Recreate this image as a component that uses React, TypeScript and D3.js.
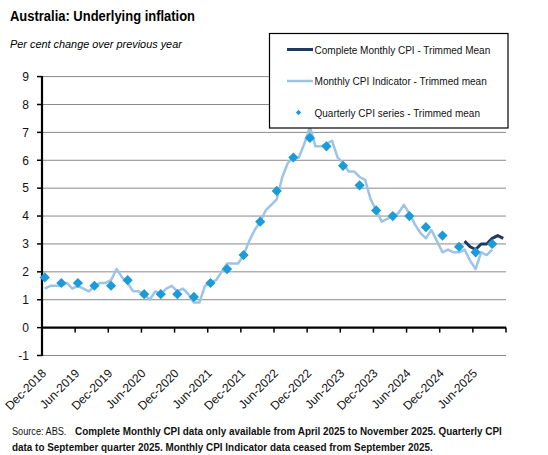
import React, { useLayoutEffect, useRef, useState } from "react";
import * as d3 from "d3";

// ---- Data ----
const MONTHS: string[] = d3
  .timeMonth.range(new Date(2018, 11, 1), new Date(2025, 11, 1))
  .map((d) => d3.timeFormat("%b-%Y")(d)); // Dec-2018 .. Nov-2025

const X_TICK_LABELS = [
  "Dec-2018", "Jun-2019", "Dec-2019", "Jun-2020", "Dec-2020", "Jun-2021", "Dec-2021",
  "Jun-2022", "Dec-2022", "Jun-2023", "Dec-2023", "Jun-2024", "Dec-2024", "Jun-2025",
];

const Y_TICKS = [-1, 0, 1, 2, 3, 4, 5, 6, 7, 8, 9];

// Monthly CPI Indicator - Trimmed mean, Dec-2018 .. Sep-2025
const INDICATOR_START = "Dec-2018";
const INDICATOR = [
  1.4, 1.5, 1.5, 1.5, 1.6, 1.4, 1.5, 1.4, 1.3, 1.5, 1.6, 1.6,
  1.7, 2.1, 1.8, 1.6, 1.3, 1.3, 1.2, 1.0, 1.3, 1.2, 1.4, 1.5,
  1.3, 1.4, 1.2, 0.9, 0.9, 1.5, 1.6, 1.7, 2.0, 2.3, 2.3, 2.3,
  2.6, 3.1, 3.5, 3.8, 4.2, 4.4, 4.6, 5.4, 5.9, 6.1, 6.1, 6.6,
  7.2, 6.5, 6.5, 6.6, 6.7, 6.1, 5.9, 5.6, 5.6, 5.4, 5.3, 4.6,
  4.2, 3.8, 3.9, 4.0, 4.1, 4.4, 4.1, 3.7, 3.4, 3.2, 3.5, 3.1,
  2.7, 2.8, 2.7, 2.7, 2.8, 2.4, 2.1, 2.7, 2.6, 2.8,
];

// Complete Monthly CPI - Trimmed Mean, Apr-2025 .. Nov-2025
const COMPLETE_START = "Apr-2025";
const COMPLETE = [3.1, 2.9, 2.8, 3.0, 3.0, 3.2, 3.3, 3.2];

// Quarterly CPI series - Trimmed mean, Dec-2018 .. Sep-2025
const QUARTERS = [
  "Dec-2018", "Mar-2019", "Jun-2019", "Sep-2019", "Dec-2019", "Mar-2020", "Jun-2020",
  "Sep-2020", "Dec-2020", "Mar-2021", "Jun-2021", "Sep-2021", "Dec-2021", "Mar-2022",
  "Jun-2022", "Sep-2022", "Dec-2022", "Mar-2023", "Jun-2023", "Sep-2023", "Dec-2023",
  "Mar-2024", "Jun-2024", "Sep-2024", "Dec-2024", "Mar-2025", "Jun-2025", "Sep-2025",
];
const QUARTERLY = [
  1.8, 1.6, 1.6, 1.5, 1.5, 1.7, 1.2, 1.2, 1.2, 1.1, 1.6, 2.1, 2.6, 3.8,
  4.9, 6.1, 6.8, 6.5, 5.8, 5.1, 4.2, 4.0, 4.0, 3.6, 3.3, 2.9, 2.7, 3.0,
];

const LEGEND = [
  "Complete Monthly CPI - Trimmed Mean",
  "Monthly CPI Indicator - Trimmed mean",
  "Quarterly CPI series - Trimmed mean",
];

// ---- Styling ----
const W = 548;
const H = 455;
const FONT = "'Liberation Sans Narrow', 'Arial Narrow', 'Liberation Sans', Arial, sans-serif";
const DARK = "#1F3864";
const LIGHT = "#9DC3E6";
const DIAMOND = "#1B9BD7";
const GRID = "#898989";

// Text that is horizontally scaled to a target width (emulates a narrow font)
function FitText(props: {
  x: number;
  y: number;
  width: number;
  fontSize: number;
  fontWeight?: string;
  fontStyle?: string;
  fill?: string;
  children: string;
}) {
  const ref = useRef<SVGTextElement>(null);
  const [sx, setSx] = useState(0.8);
  useLayoutEffect(() => {
    if (ref.current) {
      const w = ref.current.getComputedTextLength();
      if (w > 0) setSx(props.width / w);
    }
  }, [props.width, props.children, props.fontSize]);
  return (
    <text
      ref={ref}
      x={0}
      y={0}
      transform={`translate(${props.x},${props.y}) scale(${sx},1)`}
      fontSize={props.fontSize}
      fontWeight={props.fontWeight}
      fontStyle={props.fontStyle}
      fill={props.fill || "#111"}
    >
      {props.children}
    </text>
  );
}

export default function App() {
  const left = 42;
  const right = 506;
  const top = 76.6;
  const bottom = 355.5;

  const x = d3.scaleBand<string>().domain(MONTHS).range([left, right]).padding(0);
  const y = d3.scaleLinear().domain([-1, 9]).range([bottom, top]);
  const cx = (m: string) => (x(m) as number) + x.bandwidth() / 2;

  const indStart = MONTHS.indexOf(INDICATOR_START);
  const indData = INDICATOR.map((v, i) => ({ m: MONTHS[indStart + i], v }));
  const compStart = MONTHS.indexOf(COMPLETE_START);
  const compData = COMPLETE.map((v, i) => ({ m: MONTHS[compStart + i], v }));
  const qData = QUARTERLY.map((v, i) => ({ m: QUARTERS[i], v }));

  const line = d3
    .line<{ m: string; v: number }>()
    .x((d) => cx(d.m))
    .y((d) => y(d.v));

  const tickXs = MONTHS.map((m, i) => ({ m, i }))
    .filter((d) => d.i % 6 === 0)
    .map((d) => x(d.m) as number)
    .concat([right]);

  const diamond = d3.symbol(d3.symbolSquare, 52)();
  const diamondSmall = d3.symbol(d3.symbolSquare, 14)();

  return (
    <svg
      width={W}
      height={H}
      viewBox={`0 0 ${W} ${H}`}
      style={{ position: "absolute", left: 0, top: 0, display: "block", background: "#fff" }}
      fontFamily={FONT}
    >
      <rect x={0} y={0} width={W} height={H} fill="#fff" />
      {/* Title */}
      <FitText x={10} y={21} width={185} fontSize={14.5} fontWeight="bold" fill="#000">
        Australia: Underlying inflation
      </FitText>
      <FitText x={10} y={47.5} width={172} fontSize={11.5} fontStyle="italic" fill="#000">
        Per cent change over previous year
      </FitText>

      {/* Gridlines */}
      {Y_TICKS.filter((t) => t !== 0).map((t) => (
        <line key={t} x1={left} x2={right} y1={y(t)} y2={y(t)} stroke={GRID} strokeWidth={1} />
      ))}

      {/* Y axis */}
      <line x1={left} x2={left} y1={y(9) - 0.5} y2={y(-1) + 0.5} stroke="#000" strokeWidth={2.2} />
      {Y_TICKS.map((t) => (
        <g key={t}>
          <line x1={left - 5} x2={left} y1={y(t)} y2={y(t)} stroke="#000" strokeWidth={1.5} />
          <text x={29} y={y(t)} dy="0.36em" textAnchor="end" fontSize={12} fill="#111">
            {t}
          </text>
        </g>
      ))}

      {/* X axis at zero */}
      <line x1={left} x2={right} y1={y(0)} y2={y(0)} stroke="#000" strokeWidth={2.2} />
      {tickXs.map((tx, i) => (
        <line key={i} x1={tx} x2={tx} y1={y(0)} y2={y(0) + 5} stroke="#000" strokeWidth={1.5} />
      ))}
      {X_TICK_LABELS.map((lab, i) => {
        const tx = tickXs[i] + 5;
        const ty = 374;
        return (
          <text
            key={lab}
            x={0}
            y={0}
            transform={`translate(${tx},${ty}) rotate(-45)`}
            textAnchor="end"
            fontSize={12}
            fill="#111"
          >
            {lab}
          </text>
        );
      })}

      {/* Series */}
      <path d={line(indData) || ""} fill="none" stroke={LIGHT} strokeWidth={2.5} strokeLinejoin="round" />
      <path d={line(compData) || ""} fill="none" stroke={DARK} strokeWidth={3} strokeLinejoin="round" />
      {qData.map((d) => (
        <path
          key={d.m}
          d={diamond || ""}
          transform={`translate(${cx(d.m)},${y(d.v)}) rotate(45)`}
          fill={DIAMOND}
        />
      ))}

      {/* Legend */}
      <rect x={269.5} y={33.5} width={238.5} height={94.5} fill="#fff" stroke="#000" strokeWidth={1.2} />
      <line x1={287} x2={313} y1={49.5} y2={49.5} stroke={DARK} strokeWidth={3} />
      <FitText x={314.5} y={53.5} width={176} fontSize={11.5}>
        {LEGEND[0]}
      </FitText>
      <line x1={287} x2={313} y1={81} y2={81} stroke={LIGHT} strokeWidth={2.5} />
      <FitText x={314.5} y={85} width={172.5} fontSize={11.5}>
        {LEGEND[1]}
      </FitText>
      <path d={diamondSmall || ""} transform={`translate(298.5,112.5) rotate(45)`} fill={DIAMOND} />
      <FitText x={314.5} y={116.5} width={165.5} fontSize={11.5}>
        {LEGEND[2]}
      </FitText>

      {/* Footer */}
      <FitText x={12} y={435} width={54.5} fontSize={11.5}>
        Source: ABS.
      </FitText>
      <FitText x={75} y={435} width={427} fontSize={11.5} fontWeight="bold">
        Complete Monthly CPI data only available from April 2025 to November 2025. Quarterly CPI
      </FitText>
      <FitText x={12} y={451} width={421} fontSize={11.5} fontWeight="bold">
        data to September quarter 2025. Monthly CPI Indicator data ceased from September 2025.
      </FitText>
    </svg>
  );
}
